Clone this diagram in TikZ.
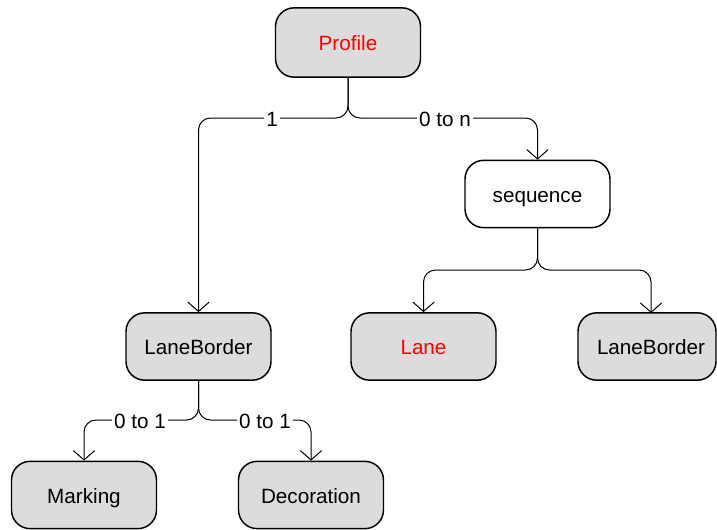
\documentclass[tikz,border=0pt]{standalone}
\usepackage{fontspec}
\setmainfont{Liberation Sans}
\usetikzlibrary{arrows.meta}
\definecolor{boxgray}{RGB}{220,220,220}
\begin{document}
\begin{tikzpicture}[x=0.75pt,y=-0.75pt,
  box/.style={draw=black, line width=1.1pt, rounded corners=14pt, fill=boxgray,
    minimum width=108.75pt, minimum height=50.5pt, inner sep=0pt,
    text height=13pt, text depth=1pt,
    font=\fontsize{15.5pt}{18pt}\selectfont},
  plainbox/.style={box, fill=white},
  redtext/.style={text=red},
  conn/.style={draw=black, line width=0.75pt, rounded corners=9pt,
    -{Straight Barb[length=7pt, width=16pt, line width=0.75pt]}},
  lbl/.style={fill=white, inner sep=1.5pt, text height=13pt, text depth=1pt,
    font=\fontsize{15.5pt}{18pt}\selectfont}]
\useasboundingbox (0,0) rectangle (717,529);

% element boxes
\node[box, redtext, minimum height=52pt] (profile) at (348,42.5) {Profile};
\node[plainbox] (sequence) at (537.5,194) {sequence};
\node[box] (lb1) at (198.5,346.5) {LaneBorder};
\node[box, redtext] (lane) at (423.5,346.5) {Lane};
\node[box, minimum width=103.5pt] (lb2) at (647,346.5) {\hspace*{6pt}LaneBorder};
\node[box] (marking) at (84,495) {Marking};
\node[box] (decoration) at (311,495) {Decoration};

\coordinate (lb2top) at (651,313);

% forks below Profile
\draw[conn] (profile.south) -- (348,118) -| (lb1.north);
\draw[conn] (profile.south) -- (348,118) -| (sequence.north);
\node[lbl] (one) at (272,118) {1};
\node[lbl] (zeron) at (445,118) {0 to n};

% forks below sequence
\draw[conn] (sequence.south) -- (537.5,270) -| (lane.north);
\draw[conn] (sequence.south) -- (537.5,270) -| (lb2top);

% forks below the left LaneBorder
\draw[conn] (lb1.south) -- (198.5,420) -| (marking.north);
\draw[conn] (lb1.south) -- (198.5,420) -| (decoration.north);
\node[lbl] (zo1) at (140,420) {0 to 1};
\node[lbl] (zo2) at (265,420) {0 to 1};
\end{tikzpicture}
\end{document}
